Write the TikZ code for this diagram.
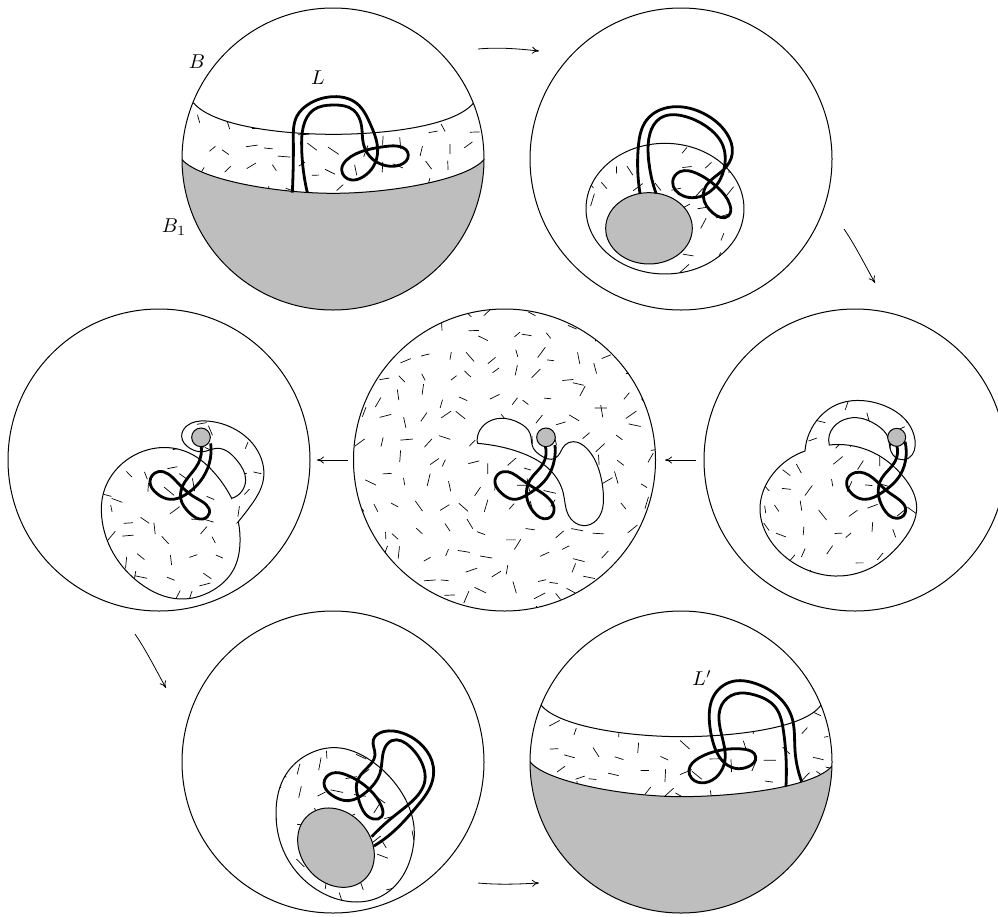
\documentclass[tikz,border=0pt]{standalone}
\usepackage{amsmath,amssymb}
\usepackage{xcolor}
\usepackage{tikz}
\usetikzlibrary{positioning,arrows.meta,calc,hobby}
\definecolor{ballgrey}{HTML}{BEBEBE}
\tikzset{
  ball/.style={draw,circle,line width=1pt,minimum size=302pt,inner sep=0pt},
  edge/.style={line width=1pt,use Hobby shortcut},
  knot/.style={line width=2.8pt,line join=round,use Hobby shortcut},
  hatch/.style={line width=0.7pt},
  soft/.style={draw,line width=1pt,fill=ballgrey},
  arr/.style={-{To[length=7pt,width=7pt]},line width=0.8pt},
  lab/.style={scale=2,inner sep=0pt},
  zoomed/.style={x=0.3333pt,y=-0.3333pt}
}
\newcommand\hatchfield[5]{%
  \pgfmathsetseed{#5}
  \foreach \hi in {0,...,#3} \foreach \hj in {0,...,#4} {
    \pgfmathsetmacro\hx{#1+\hi*66+40*rnd}
    \pgfmathsetmacro\hy{#2+\hj*66+40*rnd}
    \pgfmathsetmacro\ha{180*rnd}
    \pgfmathsetmacro\hl{7+6*rnd}
    \draw[hatch] (\hx,\hy) -- ++(\ha:\hl pt);
  }
}
\begin{document}
\begin{tikzpicture}[x=1pt,y=-1pt]
\useasboundingbox (0,0) rectangle (998,916);

\begin{scope}[shift={(150,0)},zoomed]
\begin{scope}
\clip (549,477) circle (453);
\path[path picture={\hatchfield{80}{300}{14}{5}{11}}] (130,308) .. controls (190,380) and (400,403) .. (550,403) .. controls (700,403) and (910,380) .. (970,310) -- (1010,478) .. controls (950,540) and (720,580) .. (550,580) .. controls (380,580) and (150,540) .. (95,478) -- cycle;
\fill[ballgrey] (95,478) .. controls (150,540) and (380,580) .. (550,580) .. controls (720,580) and (950,540) .. (1003,478) -- (1010,950) -- (90,950) -- cycle;
\draw[line width=1pt] (130,308) .. controls (190,380) and (400,403) .. (550,403) .. controls (700,403) and (910,380) .. (970,310);
\draw[line width=1pt] (95,478) .. controls (150,540) and (380,580) .. (550,580) .. controls (720,580) and (950,540) .. (1003,478);
\end{scope}
\draw[knot] (427,578) .. (430,420) .. (440,350) .. (480,310) .. (550,290) .. (620,310) .. (660,370) .. (683,450) .. (670,500) .. (640,530) .. (605,540) .. (575,510) .. (590,480) .. (650,450) .. (720,438) .. (775,465) .. (750,495) .. (700,495) .. (660,470) .. (640,430) .. (635,380) .. (610,330) .. (550,315) .. (490,330) .. (460,380) .. (455,440) .. (472,578);
\end{scope}
\node[ball] (d1) at (333,159) {};

\begin{scope}[shift={(560,90)},zoomed]
\draw[line width=1pt,path picture={\hatchfield{70}{150}{7}{6}{23}}] (315,356) ellipse [x radius=237,y radius=196];
\draw[soft] (267,415) ellipse [x radius=130,y radius=107];
\draw[knot] (240,310) .. (235,170) .. (260,90) .. (350,50) .. (430,70) .. (500,130) .. (517,190) .. (490,240) .. (440,285) .. (430,320) .. (460,370) .. (505,378) .. (510,345) .. (470,290) .. (410,250) .. (360,245) .. (338,275) .. (370,318) .. (420,320) .. (470,285) .. (495,220) .. (490,170) .. (440,110) .. (370,78) .. (300,85) .. (270,130) .. (265,200) .. (288,310);
\end{scope}
\node[ball] (d2) at (681,159) {};

\begin{scope}[shift={(740,380)},zoomed]
\draw[edge,path picture={\hatchfield{50}{50}{7}{8}{37}}] (195,213) .. (240,110) .. (300,70) .. (370,62) .. (440,80) .. (505,130) .. (525,180) .. (505,235) .. (475,237) .. (450,205) .. (445,175) .. (410,135) .. (350,113) .. (300,125) .. (268,165) .. (268,195) -- (268,195) .. (350,200) .. (430,235) .. (490,290) .. (530,380) .. (490,480) .. (400,560) .. (300,588) .. (180,560) .. (90,480) .. (60,390) .. (100,280) .. (195,213) -- cycle;
\draw[knot] (495,185) .. (497,240) .. (470,300) .. (430,335) .. (370,358) .. (330,335) .. (320,305) .. (345,278) .. (400,295) .. (450,340) .. (495,400) .. (470,415) .. (430,385) .. (415,340) .. (425,295) .. (465,245) .. (470,195);
\draw[soft] (470,172) circle (27);
\end{scope}
\node[ball] (d3) at (855,460) {};

\begin{scope}[shift={(440,390)},zoomed]
\begin{scope}
\clip (194,210) circle (453);
\hatchfield{-265}{-250}{14}{14}{41}
\end{scope}
\draw[edge,fill=white] (112,160) .. (120,120) .. (180,85) .. (240,100) .. (270,130) .. (280,175) .. (300,195) .. (345,205) .. (375,165) .. (400,155) .. (440,175) .. (480,250) .. (490,310) .. (470,390) .. (430,407) .. (385,375) .. (370,310) .. (330,240) .. (260,195) .. (180,170) .. (112,160) -- cycle;
\draw[knot] (345,165) .. (343,210) .. (320,265) .. (260,315) .. (220,328) .. (185,310) .. (165,270) .. (190,245) .. (240,265) .. (300,305) .. (340,370) .. (325,385) .. (280,365) .. (260,320) .. (270,270) .. (310,220) .. (315,165);
\draw[soft] (318,142) circle (28);
\end{scope}
\node[ball] (d4) at (504.5,460) {};

\begin{scope}[shift={(90,400)},zoomed]
\draw[edge,path picture={\hatchfield{30}{70}{7}{8}{53}}] (445,365) .. (480,320) .. (520,240) .. (495,140) .. (430,85) .. (350,63) .. (290,78) .. (275,110) .. (300,145) .. (340,155) .. (380,145) .. (440,180) .. (467,240) .. (425,295) -- (425,295) .. (370,215) .. (300,160) .. (210,143) .. (110,180) .. (40,280) .. (35,350) .. (70,460) .. (150,550) .. (270,597) .. (370,570) .. (430,510) .. (450,430) .. (445,365) -- cycle;
\draw[knot] (362,130) .. (358,190) .. (330,245) .. (285,285) .. (240,298) .. (200,280) .. (180,245) .. (205,215) .. (260,245) .. (320,295) .. (358,340) .. (340,357) .. (300,340) .. (272,295) .. (285,245) .. (325,190) .. (333,135);
\draw[soft] (333,112) circle (28);
\end{scope}
\node[ball] (d5) at (159,460) {};

\begin{scope}[shift={(260,710)},zoomed]
\draw[edge,path picture={\hatchfield{40}{110}{7}{7}{67}}] ([closed]48,310) .. (80,190) .. (150,130) .. (230,113) .. (330,150) .. (420,240) .. (462,350) .. (458,420) .. (420,510) .. (350,565) .. (270,575) .. (180,545) .. (105,480) .. (62,400);
\draw[soft] (228,413) ellipse [x radius=128,y radius=105,rotate=-50];
\draw[knot] (342,408) .. (400,365) .. (470,290) .. (515,220) .. (520,170) .. (490,110) .. (430,70) .. (370,65) .. (340,90) .. (345,135) .. (320,175) .. (290,220) .. (295,265) .. (340,327) .. (365,320) .. (365,290) .. (330,240) .. (260,195) .. (215,190) .. (192,220) .. (215,255) .. (265,272) .. (320,245) .. (360,190) .. (372,120) .. (395,92) .. (450,110) .. (490,170) .. (495,210) .. (455,275) .. (400,320) .. (335,380);
\end{scope}
\node[ball] (d6) at (333,762) {};

\begin{scope}[shift={(525,660)},zoomed]
\begin{scope}
\clip (468,306) circle (453);
\path[path picture={\hatchfield{0}{130}{14}{5}{79}}] (48,135) .. controls (100,200) and (310,230) .. (468,230) .. controls (626,230) and (840,205) .. (888,135) -- (930,318) .. controls (870,380) and (640,410) .. (468,410) .. controls (300,410) and (60,365) .. (15,305) -- cycle;
\fill[ballgrey] (15,305) .. controls (60,365) and (300,410) .. (468,410) .. controls (640,410) and (870,380) .. (921,318) -- (930,770) -- (0,770) -- cycle;
\draw[line width=1pt] (48,135) .. controls (100,200) and (310,230) .. (468,230) .. controls (626,230) and (840,205) .. (888,135);
\draw[line width=1pt] (15,305) .. controls (60,365) and (300,410) .. (468,410) .. controls (640,410) and (870,380) .. (921,318);
\end{scope}
\draw[knot] (783,380) .. (783,290) .. (775,210) .. (750,140) .. (690,105) .. (630,102) .. (590,135) .. (583,190) .. (598,260) .. (600,300) .. (580,345) .. (540,368) .. (500,355) .. (492,330) .. (520,295) .. (590,270) .. (660,268) .. (692,290) .. (670,320) .. (630,325) .. (590,300) .. (565,250) .. (553,180) .. (565,110) .. (620,65) .. (690,70) .. (760,110) .. (800,170) .. (810,270) .. (830,365);
\end{scope}
\node[ball] (d7) at (681,762) {};

\coordinate (a1s) at (478,49);
\coordinate (a1e) at (539,51);
\coordinate (a2s) at (844,229);
\coordinate (a2e) at (875,283);
\coordinate (a3s) at (696,460);
\coordinate (a3e) at (665,460);
\coordinate (a4s) at (348,460);
\coordinate (a4e) at (317,460);
\coordinate (a5s) at (135,634);
\coordinate (a5e) at (166,688);
\coordinate (a6s) at (478,883);
\coordinate (a6e) at (539,883);

\draw[arr] (a1s) .. controls (500,47) and (520,49) .. (a1e);
\draw[arr] (a2s) .. controls (855,245) and (865,265) .. (a2e);
\draw[arr] (a3s) -- (a3e);
\draw[arr] (a4s) -- (a4e);
\draw[arr] (a5s) .. controls (146,650) and (156,670) .. (a5e);
\draw[arr] (a6s) .. controls (500,885) and (520,884) .. (a6e);

\node[lab] (lB) at (197,62) {$B$};
\node[lab] (lL) at (318,78) {$L$};
\node[lab] (lB1) at (174,227) {$B_1$};
\node[lab] (lLp) at (702,678) {$L'$};
\end{tikzpicture}
\end{document}
